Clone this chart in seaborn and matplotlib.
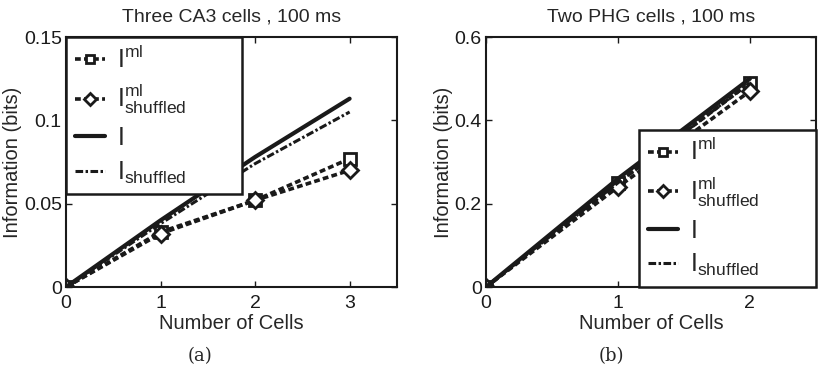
import numpy as np
import pandas as pd
import seaborn as sns
import matplotlib
matplotlib.use("Agg")
import matplotlib.pyplot as plt

# ---- data ----
cells_a = [0, 1, 2, 3]
a_I_ml = [0, 0.033, 0.052, 0.077]
a_I_ml_shuf = [0, 0.032, 0.052, 0.070]
a_I = [0, 0.040, 0.078, 0.113]
a_I_shuf = [0, 0.038, 0.074, 0.105]

cells_b = [0, 1, 2]
b_I_ml = [0, 0.25, 0.49]
b_I_ml_shuf = [0, 0.24, 0.47]
b_I = [0, 0.26, 0.50]
b_I_shuf = [0, 0.25, 0.49]

titles = ["Three CA3 cells , 100 ms", "Two PHG cells , 100 ms"]
captions = ["(a)", "(b)"]
labels = [r"$\mathrm{I}^{\mathrm{ml}}$", r"$\mathrm{I}^{\mathrm{ml}}_{\mathrm{shuffled}}$",
          r"$\mathrm{I}$", r"$\mathrm{I}_{\mathrm{shuffled}}$"]

sns.set_theme(style="white")
plt.rcParams['font.family'] = ['Liberation Sans', 'DejaVu Sans']
plt.rcParams['mathtext.fontset'] = 'custom'
plt.rcParams['mathtext.rm'] = 'Liberation Sans'
plt.rcParams['mathtext.it'] = 'Liberation Sans'
plt.rcParams['mathtext.bf'] = 'Liberation Sans:bold'

fig = plt.figure(figsize=(8.2, 3.7), dpi=100)
ax1 = fig.add_axes([0.0805, 0.2243, 0.4035, 0.6757])
ax2 = fig.add_axes([0.5927, 0.2243, 0.4023, 0.6757])

def draw(ax, x, s_ml, s_mls, s_I, s_Is):
    lw = 2.6
    sns.lineplot(x=x, y=s_ml, ax=ax, color='k', lw=lw, linestyle=(0, (1.6, 0.9)),
                 marker='s', ms=8, mfc='white', mec='k', mew=2.0, label=labels[0])
    sns.lineplot(x=x, y=s_mls, ax=ax, color='k', lw=lw, linestyle=(0, (1.6, 0.9)),
                 marker='D', ms=8, mfc='white', mec='k', mew=2.0, label=labels[1])
    sns.lineplot(x=x, y=s_I, ax=ax, color='k', lw=lw + 0.4, linestyle='-', label=labels[2])
    sns.lineplot(x=x, y=s_Is, ax=ax, color='k', lw=lw - 0.4, linestyle=(0, (2.5, 0.8, 0.8, 0.8)),
                 label=labels[3])

draw(ax1, cells_a, a_I_ml, a_I_ml_shuf, a_I, a_I_shuf)
draw(ax2, cells_b, b_I_ml, b_I_ml_shuf, b_I, b_I_shuf)

ax1.set_xlim(0, 3.5)
ax1.set_ylim(0, 0.15)
ax1.set_xticks([0, 1, 2, 3])
ax1.set_yticks([0, 0.05, 0.1, 0.15])
ax1.set_yticklabels(['0', '0.05', '0.1', '0.15'])
ax2.set_xlim(0, 2.5)
ax2.set_ylim(0, 0.6)
ax2.set_xticks([0, 1, 2])
ax2.set_yticks([0, 0.2, 0.4, 0.6])
ax2.set_yticklabels(['0', '0.2', '0.4', '0.6'])

for ax, t, c, cx in zip([ax1, ax2], titles, captions, [0.244, 0.746]):
    ax.set_title(t, fontsize=14, pad=11)
    ax.set_xlabel("Number of Cells", fontsize=14.5, labelpad=1)
    ax.set_ylabel("Information (bits)", fontsize=14.5, labelpad=1)
    ax.tick_params(direction='in', length=4, width=1, labelsize=14,
                   top=True, right=True, bottom=True, left=True, colors='k')
    ax.tick_params(axis='x', pad=6)
    ax.tick_params(axis='y', pad=3)
    for sp in ax.spines.values():
        sp.set_color('k')
        sp.set_linewidth(1.5)
    fig.text(cx, 0.038, c, ha='center', va='center', fontsize=13,
             family=['DejaVu Serif'])

leg_kw = dict(fontsize=18, frameon=True, fancybox=False, edgecolor='k',
              handlelength=1.2, handletextpad=0.5, borderpad=0.35,
              labelspacing=0.38, mode='expand', borderaxespad=0, markerscale=0.8)
l1 = ax1.legend(loc='upper left', bbox_to_anchor=(0.0, 0.38, 0.532, 0.62), **leg_kw)
l2 = ax2.legend(loc='lower right', bbox_to_anchor=(0.464, 0.0, 0.536, 0.64), **leg_kw)
for l in (l1, l2):
    l.get_frame().set_linewidth(1.8)
    l.get_frame().set_alpha(1)

fig.savefig("out.png", dpi=100)
